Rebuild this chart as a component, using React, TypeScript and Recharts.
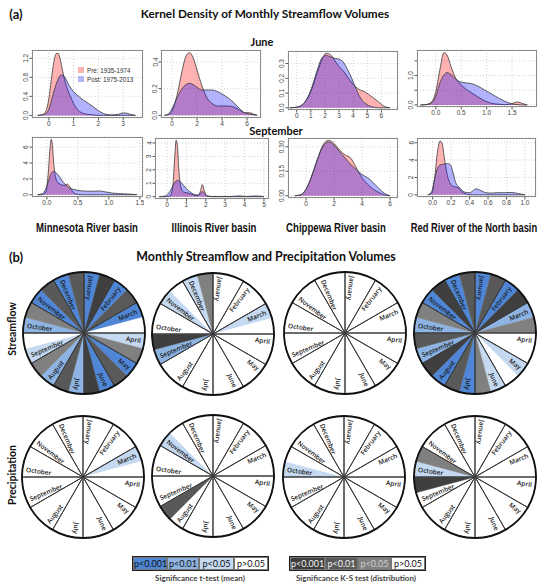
import React from "react";
import { Area, AreaChart, CartesianGrid, Cell, Pie, PieChart, XAxis, YAxis } from "recharts";

// ---------- (a) kernel densities ----------
// June
const mnJuneX = [-0.45, -0.3, -0.15, 0, 0.1, 0.2, 0.3, 0.38, 0.46, 0.55, 0.65, 0.75, 0.85, 1.0, 1.2, 1.4, 1.6, 1.8, 2.0, 2.2, 2.5, 2.8, 2.95, 3.1, 3.3, 3.5];
const mnJunePre = [0, 0.01, 0.06, 0.35, 0.75, 1.12, 1.3, 1.3, 1.18, 0.95, 0.72, 0.55, 0.42, 0.25, 0.1, 0.04, 0.02, 0.01, 0, 0, 0, 0, 0, 0, 0, 0];
const mnJunePost = [0, 0.005, 0.03, 0.13, 0.3, 0.5, 0.66, 0.77, 0.84, 0.85, 0.8, 0.7, 0.6, 0.5, 0.4, 0.32, 0.25, 0.18, 0.1, 0.04, 0.01, 0.02, 0.05, 0.05, 0.02, 0];

const ilJuneX = [-0.6, -0.3, 0, 0.4, 0.8, 1.1, 1.4, 1.7, 2.0, 2.4, 2.8, 3.2, 3.6, 4.0, 4.5, 5.0, 5.4, 5.8, 6.2, 6.5, 6.8];
const ilJunePre = [0, 0.005, 0.03, 0.15, 0.33, 0.44, 0.47, 0.43, 0.34, 0.22, 0.13, 0.09, 0.07, 0.07, 0.07, 0.06, 0.04, 0.02, 0.02, 0.01, 0];
const ilJunePost = [0, 0.01, 0.05, 0.13, 0.2, 0.23, 0.24, 0.23, 0.21, 0.19, 0.19, 0.19, 0.18, 0.16, 0.13, 0.09, 0.05, 0.02, 0.01, 0.005, 0];

const chJuneX = [-0.5, 0, 0.5, 1.0, 1.5, 1.8, 2.1, 2.4, 2.7, 3.0, 3.3, 3.6, 3.9, 4.2, 4.5, 4.8, 5.1, 5.4, 5.8, 6.2, 6.6];
const chJunePre = [0, 0.004, 0.03, 0.11, 0.25, 0.33, 0.37, 0.36, 0.32, 0.28, 0.25, 0.21, 0.17, 0.14, 0.12, 0.11, 0.09, 0.07, 0.04, 0.01, 0];
const chJunePost = [0, 0.004, 0.03, 0.12, 0.27, 0.34, 0.355, 0.345, 0.335, 0.33, 0.31, 0.26, 0.2, 0.13, 0.07, 0.035, 0.015, 0.005, 0, 0, 0];

const rrJuneX = [-0.3, -0.2, -0.1, 0, 0.08, 0.16, 0.22, 0.3, 0.38, 0.46, 0.55, 0.65, 0.75, 0.85, 0.95, 1.05, 1.15, 1.25, 1.35, 1.45, 1.55, 1.62, 1.7, 1.8];
const rrJunePre = [0, 0.01, 0.08, 0.45, 1.2, 1.78, 1.7, 1.3, 0.95, 0.75, 0.6, 0.47, 0.36, 0.25, 0.15, 0.08, 0.04, 0.02, 0.01, 0.02, 0.08, 0.1, 0.05, 0];
const rrJunePost = [0, 0.01, 0.05, 0.3, 0.75, 1.02, 1.1, 1.03, 0.9, 0.8, 0.76, 0.74, 0.7, 0.62, 0.52, 0.42, 0.32, 0.22, 0.13, 0.06, 0.02, 0.01, 0, 0];

// September
const mnSepX = [-0.15, -0.07, -0.02, 0.02, 0.05, 0.07, 0.09, 0.11, 0.14, 0.17, 0.21, 0.25, 0.29, 0.33, 0.37, 0.42, 0.48, 0.55, 0.65, 0.75, 0.85, 0.95, 1.05, 1.15, 1.25, 1.35, 1.45];
const mnSepPre = [0, 0.02, 0.3, 2.5, 5.8, 7.0, 6.2, 4.0, 2.2, 1.6, 1.35, 1.2, 1.2, 1.35, 1.0, 0.35, 0.08, 0.01, 0, 0, 0, 0, 0, 0, 0, 0, 0];
const mnSepPost = [0, 0.15, 0.7, 1.6, 2.3, 2.7, 2.9, 2.95, 2.85, 2.6, 2.2, 1.75, 1.35, 1.05, 0.85, 0.7, 0.6, 0.5, 0.45, 0.45, 0.48, 0.35, 0.22, 0.15, 0.12, 0.08, 0.02];

const ilSepX = [-0.4, -0.1, 0.15, 0.3, 0.4, 0.47, 0.53, 0.6, 0.7, 0.85, 1.0, 1.2, 1.4, 1.6, 1.72, 1.82, 1.92, 2.05, 2.3, 2.8, 3.3, 3.7, 4.1, 4.6, 5.0];
const ilSepPre = [0, 0, 0.05, 0.8, 3.0, 4.2, 3.9, 2.2, 0.8, 0.35, 0.3, 0.22, 0.12, 0.08, 0.4, 0.9, 0.45, 0.05, 0, 0, 0, 0, 0, 0, 0];
const ilSepPost = [0, 0.05, 0.4, 0.8, 1.05, 1.18, 1.22, 1.2, 1.1, 0.85, 0.6, 0.35, 0.17, 0.12, 0.28, 0.38, 0.28, 0.08, 0.02, 0.02, 0.02, 0.06, 0.02, 0.06, 0];

const chSepX = [-0.8, -0.4, 0, 0.4, 0.8, 1.2, 1.6, 2.0, 2.4, 2.8, 3.2, 3.6, 4.0, 4.4, 4.8, 5.2, 5.6, 6.0];
const chSepPre = [0, 0.005, 0.04, 0.12, 0.22, 0.31, 0.34, 0.32, 0.28, 0.25, 0.23, 0.17, 0.11, 0.07, 0.04, 0.02, 0.005, 0];
const chSepPost = [0, 0.005, 0.04, 0.12, 0.22, 0.3, 0.33, 0.31, 0.27, 0.23, 0.19, 0.16, 0.13, 0.11, 0.08, 0.045, 0.015, 0];

const rrSepX = [-0.05, -0.01, 0.02, 0.05, 0.08, 0.1, 0.13, 0.16, 0.19, 0.22, 0.25, 0.28, 0.31, 0.35, 0.4, 0.44, 0.47, 0.51, 0.56, 0.62, 0.7, 0.78, 0.86, 0.93, 1.0];
const rrSepPre = [0, 0.2, 1.8, 4.8, 6.2, 6.0, 4.0, 2.2, 1.3, 1.0, 0.9, 0.8, 0.45, 0.12, 0.02, 0, 0, 0, 0, 0, 0, 0, 0, 0, 0];
const rrSepPost = [0, 0.4, 1.8, 3.0, 3.45, 3.5, 3.55, 3.6, 3.5, 2.6, 1.4, 0.95, 0.6, 0.3, 0.25, 0.5, 0.7, 0.55, 0.3, 0.2, 0.25, 0.25, 0.27, 0.15, 0];

const basins = ["Minnesota River basin", "Illinois River basin", "Chippewa River basin", "Red River of the North basin"];

// ---------- (b) significance wheels: 0 = p<0.001, 1 = p<0.01, 2 = p<0.05, 3 = p>0.05 ----------
const months = ["January", "February", "March", "April", "May", "June", "July", "August", "September", "October", "November", "December"];
const pLabels = ["p<0.001", "p<0.01", "p<0.05", "p>0.05"];

const mnFlowT = [0, 0, 0, 2, 0, 0, 1, 1, 2, 1, 0, 0];
const mnFlowKS = [0, 1, 3, 2, 1, 0, 1, 2, 3, 2, 1, 1];
const ilFlowT = [3, 3, 2, 3, 3, 3, 3, 3, 1, 3, 2, 2];
const ilFlowKS = [3, 3, 3, 3, 3, 3, 3, 3, 0, 3, 3, 2];
const chFlowT = [3, 3, 3, 3, 3, 3, 3, 3, 3, 3, 3, 3];
const chFlowKS = [3, 3, 3, 3, 3, 3, 3, 3, 3, 3, 3, 3];
const rrFlowT = [0, 0, 1, 3, 2, 2, 0, 0, 1, 1, 0, 0];
const rrFlowKS = [1, 0, 2, 3, 3, 2, 1, 0, 1, 2, 0, 1];

const mnPrecT = [3, 3, 2, 3, 3, 3, 3, 3, 3, 3, 3, 3];
const mnPrecKS = [3, 3, 3, 3, 3, 3, 3, 3, 3, 3, 3, 3];
const ilPrecT = [3, 3, 3, 3, 3, 3, 3, 3, 3, 3, 2, 3];
const ilPrecKS = [3, 3, 3, 3, 3, 3, 3, 1, 3, 3, 3, 3];
const chPrecT = [3, 3, 3, 3, 3, 3, 3, 3, 3, 2, 3, 3];
const chPrecKS = [3, 3, 3, 3, 3, 3, 3, 3, 3, 3, 3, 3];
const rrPrecT = [3, 3, 3, 3, 3, 3, 3, 3, 3, 2, 3, 3];
const rrPrecKS = [3, 3, 3, 3, 3, 3, 3, 3, 0, 2, 3, 3];

const BLUES = ["#4f87d6", "#8db4e2", "#c5d9f1", "#ffffff"];
const GRAYS = ["#3f3f3f", "#595959", "#808080", "#ffffff"];

const TITLE_FONT = "Lato, 'Open Sans', sans-serif";
const AXIS_FONT = "'Liberation Sans', Arial, sans-serif";
const NARROW_FONT = "'Liberation Sans', Arial, sans-serif";
const YW = 13;
const XH = 12;

const xTick = (dec: number) => (props: any) => {
  const { x, y, payload } = props;
  return (
    <text x={x} y={y} dy="0.71em" textAnchor="middle" fontSize={6.5} fill="#444" fontFamily={AXIS_FONT}>
      {Number(payload.value).toFixed(dec)}
    </text>
  );
};

const yTick = (dec: number, shown?: number[]) => (props: any) => {
  const { x, y, payload } = props;
  if (shown && !shown.includes(payload.value)) return <g />;
  return (
    <text x={x} y={y} transform={`rotate(-90 ${x} ${y})`} textAnchor="middle" fontSize={6.5} fill="#444" fontFamily={AXIS_FONT}>
      {Number(payload.value).toFixed(dec)}
    </text>
  );
};

function DensityPanel(p: any) {
  const [l, t, w, h] = p.box;
  const data = p.x.map((x: number, i: number) => ({ x, pre: p.pre[i], post: p.post[i] }));
  return (
    <div style={{ position: "absolute", left: l - YW, top: t - 1 }}>
      <AreaChart width={w + YW + 1} height={h + 1 + XH} data={data} margin={{ top: 1, right: 1, left: 0, bottom: 0 }}>
        <CartesianGrid stroke="#d4d4d4" strokeDasharray="1 2" />
        <XAxis dataKey="x" type="number" domain={p.xDomain} ticks={p.xTicks} allowDataOverflow interval={0}
          height={XH} tickSize={2.5} tickMargin={1} axisLine={false} tickLine={{ stroke: "#555" }} tick={xTick(p.xDec)} />
        <YAxis type="number" domain={p.yDomain} ticks={p.yTicks} allowDataOverflow interval={0}
          width={YW} tickSize={2.5} tickMargin={1} axisLine={false} tickLine={{ stroke: "#555" }} tick={yTick(p.yDec, p.yShown)} />
        <Area type="monotone" dataKey="pre" baseValue={0} fill="#ff0000" fillOpacity={0.3} stroke="#3a3a3a" strokeWidth={0.8} isAnimationActive={false} />
        <Area type="monotone" dataKey="post" baseValue={0} fill="#0000ff" fillOpacity={0.3} stroke="#3a3a3a" strokeWidth={0.8} isAnimationActive={false} />
      </AreaChart>
      <div style={{ position: "absolute", left: YW, top: 1, width: w, height: h, border: "1px solid #8a8a8a", boxSizing: "border-box", pointerEvents: "none" }} />
    </div>
  );
}

const wheelLabel = (props: any) => {
  const { cx, cy, midAngle, outerRadius, index } = props;
  const a = midAngle + 7.5;
  let rot = -a;
  let anchor = "end";
  if (rot < -70) { rot += 180; anchor = "start"; }
  else if (rot >= 110) { rot -= 180; anchor = "start"; }
  const r = outerRadius * 0.94;
  const x = cx + r * Math.cos((a * Math.PI) / 180);
  const y = cy - r * Math.sin((a * Math.PI) / 180);
  return (
    <text key={index} x={x} y={y} transform={`rotate(${rot} ${x} ${y})`} textAnchor={anchor} dominantBaseline="central"
      fontSize={6.5} fontWeight={600} fill="#1a1a1a" fontFamily="'Open Sans', sans-serif">
      {months[index]}
    </text>
  );
};

function Wheel({ cx, cy, t, ks }: { cx: number; cy: number; t: number[]; ks: number[] }) {
  const R = 61;
  const halves = months.flatMap((m, i) => [
    { name: m + " t", value: 1, fill: BLUES[t[i]] },
    { name: m + " ks", value: 1, fill: GRAYS[ks[i]] },
  ]);
  const monthData = months.map((m) => ({ name: m, value: 1 }));
  return (
    <div style={{ position: "absolute", left: cx - 66, top: cy - 66 }}>
      <PieChart width={132} height={132} margin={{ top: 0, right: 0, bottom: 0, left: 0 }}>
        <Pie data={halves} dataKey="value" cx={66} cy={66} innerRadius={0} outerRadius={R} startAngle={90} endAngle={-270} isAnimationActive={false}>
          {halves.map((hv, i) => (
            <Cell key={i} fill={hv.fill} stroke={hv.fill} strokeWidth={0.4} />
          ))}
        </Pie>
        <Pie data={monthData} dataKey="value" cx={66} cy={66} innerRadius={0} outerRadius={R} startAngle={90} endAngle={-270}
          fill="none" stroke="#3a3a3a" strokeWidth={1} label={wheelLabel} labelLine={false} isAnimationActive={false} />
        <Pie data={[{ name: "rim", value: 1 }]} dataKey="value" cx={66} cy={66} innerRadius={R} outerRadius={R} startAngle={90} endAngle={-270}
          fill="none" stroke="#111" strokeWidth={1.8} isAnimationActive={false} />
        <Pie data={[{ name: "hub", value: 1 }]} dataKey="value" cx={66} cy={66} innerRadius={0} outerRadius={2} startAngle={90} endAngle={-270}
          fill="#000" stroke="none" isAnimationActive={false} />
      </PieChart>
    </div>
  );
}

function Txt({ x, y, children, size = 11, rotate = 0, sx = 1, style = {} }: any) {
  return (
    <div style={{ position: "absolute", left: x, top: y, transform: `translate(-50%, -50%) rotate(${rotate}deg) scaleX(${sx})`, whiteSpace: "nowrap",
      fontFamily: TITLE_FONT, fontWeight: 700, fontSize: size, color: "#111", lineHeight: 1, ...style }}>
      {children}
    </div>
  );
}

function LegendBar({ left, top, widths, colors, textColors }: any) {
  let x = 0;
  return (
    <div style={{ position: "absolute", left, top, height: 13, width: widths.reduce((s: number, v: number) => s + v, 0), border: "1px solid #222", boxSizing: "content-box" }}>
      {pLabels.map((lab, i) => {
        const cell = (
          <div key={lab} style={{ position: "absolute", left: x, top: 0, width: widths[i], height: 13, background: colors[i], color: textColors[i],
            border: "1px solid #777", boxSizing: "border-box", fontFamily: TITLE_FONT, fontSize: 9, lineHeight: "11px", textAlign: "center" }}>
            {lab}
          </div>
        );
        x += widths[i];
        return cell;
      })}
    </div>
  );
}

export default function App() {
  const juneBoxes = [[32, 50, 111, 68], [161, 50, 100, 68], [288, 51, 110, 59], [417, 50, 120, 57]];
  const sepBoxes = [[32, 137, 111, 60], [155, 138, 114, 61], [288, 138, 110, 60], [417, 138, 119, 59]];
  const basinStyle = { fontFamily: NARROW_FONT };
  return (
    <div style={{ position: "absolute", left: 0, top: 0, width: 545, height: 586, background: "#fff", overflow: "hidden" }}>
      <Txt x={16} y={14} size={13}>(a)</Txt>
      <Txt x={265} y={14} size={11.8}>Kernel Density of Monthly Streamflow Volumes</Txt>
      <Txt x={262} y={41} size={11}>June</Txt>
      <Txt x={276} y={130} size={11}>September</Txt>

      <DensityPanel box={juneBoxes[0]} x={mnJuneX} pre={mnJunePre} post={mnJunePost} xDomain={[-0.68, 3.8]} xTicks={[0, 1, 2, 3]} xDec={0}
        yDomain={[-0.055, 1.375]} yTicks={[0, 0.4, 0.8, 1.2]} yDec={1} />
      <DensityPanel box={juneBoxes[1]} x={ilJuneX} pre={ilJunePre} post={ilJunePost} xDomain={[-0.88, 7.12]} xTicks={[0, 2, 4, 6]} xDec={0}
        yDomain={[-0.02, 0.49]} yTicks={[0, 0.2, 0.4]} yDec={1} />
      <DensityPanel box={juneBoxes[2]} x={chJuneX} pre={chJunePre} post={chJunePost} xDomain={[-0.62, 7.18]} xTicks={[0, 1, 2, 3, 4, 5, 6]} xDec={0}
        yDomain={[-0.015, 0.385]} yTicks={[0, 0.1, 0.2, 0.3]} yDec={1} />
      <DensityPanel box={juneBoxes[3]} x={rrJuneX} pre={rrJunePre} post={rrJunePost} xDomain={[-0.37, 1.99]} xTicks={[0, 0.5, 1, 1.5]} xDec={1}
        yDomain={[-0.07, 1.87]} yTicks={[0, 0.5, 1, 1.5]} yDec={1} yShown={[0, 1]} />

      <DensityPanel box={sepBoxes[0]} x={mnSepX} pre={mnSepPre} post={mnSepPost} xDomain={[-0.24, 1.55]} xTicks={[0, 0.5, 1, 1.5]} xDec={1}
        yDomain={[-0.28, 7.28]} yTicks={[0, 2, 4, 6]} yDec={0} />
      <DensityPanel box={sepBoxes[1]} x={ilSepX} pre={ilSepPre} post={ilSepPost} xDomain={[-0.62, 5.26]} xTicks={[0, 1, 2, 3, 4, 5]} xDec={0}
        yDomain={[-0.17, 4.37]} yTicks={[0, 1, 2, 3, 4]} yDec={0} />
      <DensityPanel box={sepBoxes[2]} x={chSepX} pre={chSepPre} post={chSepPost} xDomain={[-1.29, 6.57]} xTicks={[0, 2, 4, 6]} xDec={0}
        yDomain={[-0.014, 0.354]} yTicks={[0, 0.15, 0.3]} yDec={2} />
      <DensityPanel box={sepBoxes[3]} x={rrSepX} pre={rrSepPre} post={rrSepPost} xDomain={[-0.17, 1.12]} xTicks={[0, 0.2, 0.4, 0.6, 0.8, 1]} xDec={1}
        yDomain={[-0.25, 6.55]} yTicks={[0, 2, 4, 6]} yDec={0} />

      {/* legend in first panel */}
      <div style={{ position: "absolute", left: 78, top: 66, fontFamily: AXIS_FONT, fontSize: 6.3, color: "#333", lineHeight: "9px" }}>
        <div><span style={{ display: "inline-block", width: 6, height: 6, background: "#f8b4b4", marginRight: 3 }} />Pre: 1935-1974</div>
        <div><span style={{ display: "inline-block", width: 6, height: 6, background: "#b4b4f8", marginRight: 3 }} />Post: 1975-2013</div>
      </div>

      <Txt x={87} y={228} size={12} sx={0.8} style={basinStyle}>{basins[0]}</Txt>
      <Txt x={214} y={228} size={12} sx={0.8} style={basinStyle}>{basins[1]}</Txt>
      <Txt x={336} y={228} size={12} sx={0.8} style={basinStyle}>{basins[2]}</Txt>
      <Txt x={474} y={228} size={12} sx={0.78} style={basinStyle}>{basins[3]}</Txt>

      <Txt x={16} y={257} size={13}>(b)</Txt>
      <Txt x={266} y={257} size={12.4}>Monthly Streamflow and Precipitation Volumes</Txt>
      <Txt x={12} y={329} size={10.5} rotate={-90}>Streamflow</Txt>
      <Txt x={12} y={475} size={10.5} rotate={-90}>Precipitation</Txt>

      <Wheel cx={84} cy={333} t={mnFlowT} ks={mnFlowKS} />
      <Wheel cx={213} cy={334} t={ilFlowT} ks={ilFlowKS} />
      <Wheel cx={345} cy={333} t={chFlowT} ks={chFlowKS} />
      <Wheel cx={475} cy={333} t={rrFlowT} ks={rrFlowKS} />
      <Wheel cx={83} cy={477} t={mnPrecT} ks={mnPrecKS} />
      <Wheel cx={213} cy={476} t={ilPrecT} ks={ilPrecKS} />
      <Wheel cx={344} cy={477} t={chPrecT} ks={chPrecKS} />
      <Wheel cx={475} cy={477} t={rrPrecT} ks={rrPrecKS} />

      <LegendBar left={132} top={556} widths={[34, 32, 35, 34]} colors={BLUES} textColors={["#111", "#111", "#111", "#111"]} />
      <LegendBar left={289} top={556} widths={[35, 33, 33, 34]} colors={GRAYS} textColors={["#f2f2f2", "#f2f2f2", "#cfcfcf", "#111"]} />
      <Txt x={200} y={578} size={8} style={{ color: "#444" }}>Significance t-test (mean)</Txt>
      <Txt x={356} y={578} size={8} style={{ color: "#444" }}>Significance K-S test (distribution)</Txt>
    </div>
  );
}
